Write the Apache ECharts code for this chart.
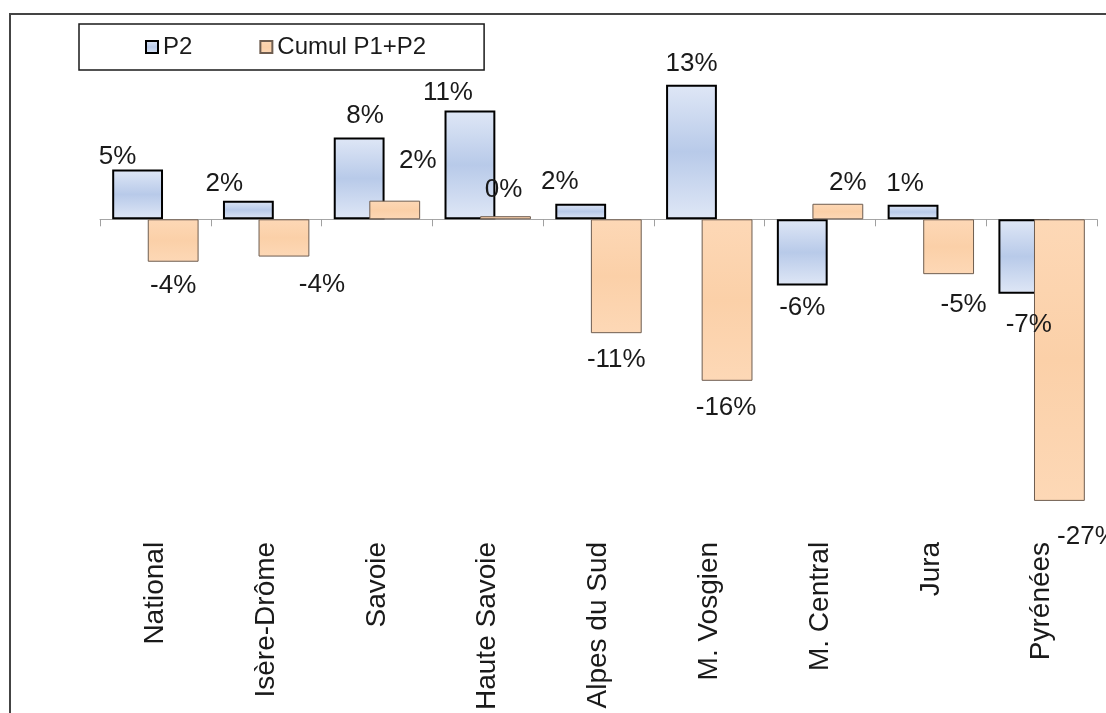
<!DOCTYPE html>
<html>
<head>
<meta charset="utf-8">
<script src="https://cdn.jsdelivr.net/npm/echarts@6/dist/echarts.min.js"></script>
<style>
html,body{margin:0;padding:0;background:#fff;}
#chart{width:1106px;height:713px;}
</style>
</head>
<body>
<div id="chart"></div>
<script>
// ---- data (values in %) ----
const categories = ['National', 'Isère-Drôme', 'Savoie', 'Haute Savoie', 'Alpes du Sud', 'M. Vosgien', 'M. Central', 'Jura', 'Pyrénées'];
const seriesNames = ['P2', 'Cumul P1+P2'];
const p2Values = [4.8, 1.8, 7.9, 10.5, 1.5, 13.0, -6.4, 1.4, -7.2];
const cumulValues = [-4.1, -3.6, 1.8, 0.3, -11.0, -15.6, 1.5, -5.3, -27.2];

// ---- style: individual data label nudges, as placed in the original ----
const p2LabelNudge = [[-20, 5], [-24, 1], [6, -4], [-22, 0], [-21, -4], [0, -3], [0, 4], [-8, -3], [5, 13]];
const cumulLabelNudge = [[0, 6], [38, 10], [23, -22], [-2, -8], [0, 9], [-1, 9], [10, -3], [15, 13], [28, 18]];

const FONT = 'Liberation Sans, Arial, sans-serif';

function withLabels(values, nudges) {
  return values.map(function (v, i) {
    return { value: v, label: { offset: nudges[i] } };
  });
}

const p2Fill = new echarts.graphic.LinearGradient(0, 0, 0, 1, [
  { offset: 0, color: '#dfe7f6' },
  { offset: 0.5, color: '#b8cae9' },
  { offset: 1, color: '#dfe7f6' }
]);
const cumulFill = new echarts.graphic.LinearGradient(0, 0, 0, 1, [
  { offset: 0, color: '#fdd8b6' },
  { offset: 0.5, color: '#fbd0a8' },
  { offset: 1, color: '#fdd8b6' }
]);

const labelCommon = {
  show: true,
  position: 'outside',
  distance: 5,
  color: '#1a1a1a',
  fontFamily: FONT,
  fontSize: 26,
  formatter: function (p) { return Math.round(p.value) + '%'; }
};

const chart = echarts.init(document.getElementById('chart'), null, { renderer: 'canvas' });
chart.setOption({
  backgroundColor: '#ffffff',
  animation: false,
  graphic: [{
    type: 'rect',
    shape: { x: 10, y: 14, width: 1200, height: 800 },
    style: { fill: 'none', stroke: '#444444', lineWidth: 2 },
    silent: true, z: -1
  }],
  legend: {
    data: [
      { name: seriesNames[0], icon: 'rect' },
      { name: seriesNames[1], icon: 'rect' }
    ],
    left: 79,
    top: 24,
    orient: 'horizontal',
    padding: [11, 58, 11, 66],
    borderColor: '#1a1a1a',
    borderWidth: 1.5,
    itemWidth: 12,
    itemHeight: 12,
    itemGap: 67,
    textStyle: { fontFamily: FONT, fontSize: 24, color: '#1a1a1a' }
  },
  grid: { left: 100, right: 9, top: 64, bottom: 178, containLabel: false },
  xAxis: [{
    type: 'category',
    data: categories,
    position: 'bottom',
    axisLine: { show: true, onZero: true, lineStyle: { color: '#a6a6a6', width: 1 } },
    axisTick: { show: true, length: 7, lineStyle: { color: '#a0a0a0' } },
    axisLabel: { show: false },
    splitLine: { show: false }
  }, {
    type: 'category',
    data: categories,
    position: 'bottom',
    axisLine: { show: false, onZero: false },
    axisTick: { show: false },
    axisLabel: {
      show: true, rotate: 90, margin: 12, interval: 0,
      fontFamily: FONT, fontSize: 28, color: '#1a1a1a'
    },
    splitLine: { show: false }
  }],
  yAxis: {
    type: 'value',
    min: -30,
    max: 15,
    show: false,
    splitLine: { show: false }
  },
  series: [{
    name: seriesNames[0],
    type: 'bar',
    xAxisIndex: 0,
    data: withLabels(p2Values, p2LabelNudge),
    barGap: '-30%',
    barCategoryGap: '22%',
    itemStyle: { color: p2Fill, borderColor: '#000000', borderWidth: 2 },
    label: labelCommon
  }, {
    name: seriesNames[1],
    type: 'bar',
    xAxisIndex: 0,
    data: withLabels(cumulValues, cumulLabelNudge),
    barGap: '-30%',
    barCategoryGap: '22%',
    itemStyle: { color: cumulFill, borderColor: '#6e5d50', borderWidth: 1 },
    label: labelCommon
  }]
});
</script>
</body>
</html>
